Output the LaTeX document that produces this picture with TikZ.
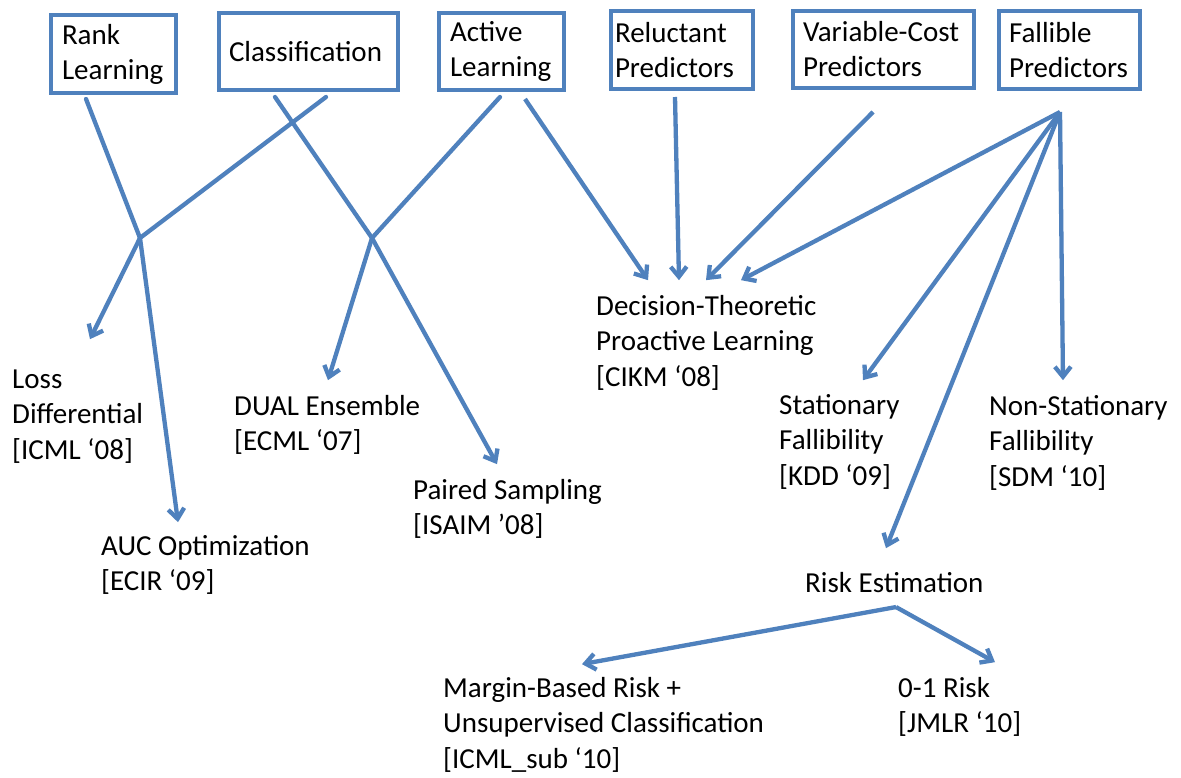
\documentclass[tikz,border=0pt]{standalone}
\usepackage{fontspec}
\setmainfont{Carlito}
\usetikzlibrary{arrows.meta,calc}
\hyphenpenalty=10000
\exhyphenpenalty=10000
\definecolor{ob}{HTML}{4F81BD}
\begin{document}
\begin{tikzpicture}[x=1pt,y=-1pt,
  lbl/.style={font=\fontsize{29}{35.5}\selectfont, inner sep=0pt, anchor=north west, align=left},
  topbox/.style={draw=ob, line width=4pt, fill=white, font=\fontsize{29}{35}\selectfont, align=left, inner ysep=0pt},
  con/.style={draw=ob, line width=4.3pt, line cap=round},
  arr/.style={draw=ob, line width=4.3pt, -{Straight Barb[length=10pt,width=16pt]}}]
\fill[white] (0,0) rectangle (1181,777);
\useasboundingbox (0,0) rectangle (1181,777);

% top boxes
\node[topbox, text width=103pt, inner xsep=11pt, minimum height=78pt] (rank) at (113.5,54) {Rank\\Learning};
\node[topbox, text width=159pt, inner xsep=10pt, minimum height=77pt] (cls) at (308.5,51.5) {Classification};
\node[topbox, text width=103pt, inner xsep=11pt, minimum height=77pt] (act) at (501.5,51.5) {Active\\Learning};
\node[topbox, text width=134pt, inner xsep=4pt, minimum height=78pt] (rel) at (682,50) {Reluctant\\Predictors};
\node[topbox, text width=161pt, inner xsep=10pt, minimum height=77pt] (var) at (883.5,49.5) {Variable-Cost\\Predictors};
\node[topbox, text width=121pt, inner xsep=10pt, minimum height=78pt] (fal) at (1069.5,50) {Fallible\\Predictors};

% result labels
\node[lbl] (loss) at (12,363.15) {\strut Loss\\Differential\\{}[ICML ‘08]};
\node[lbl] (auc) at (101,530.15) {\strut AUC Optimization\\{}[ECIR ‘09]};
\node[lbl] (dual) at (234,390.15) {\strut DUAL Ensemble\\{}[ECML ‘07]};
\node[lbl] (paired) at (413,474.15) {\strut Paired Sampling\\{}[ISAIM ’08]};
\node[lbl] (dec) at (596,290.15) {\strut Decision-Theoretic\\Proactive Learning\\{}[CIKM ‘08]};
\node[lbl] (stat) at (779,389.15) {\strut Stationary\\Fallibility\\{}[KDD ‘09]};
\node[lbl] (nonstat) at (989,390.15) {\strut Non-Stationary\\Fallibility\\{}[SDM ‘10]};
\node[lbl] (risk) at (805,567.15) {\strut Risk Estimation};
\node[lbl] (margin) at (443,672.15) {\strut Margin-Based Risk +\\Unsupervised Classification\\{}[ICML\_sub ‘10]};
\node[lbl] (zero) at (898,672.15) {\strut 0-1 Risk\\{}[JMLR ‘10]};

% junctions
\coordinate (j1) at (140,238);
\coordinate (j2) at (372,238);
\coordinate (fapex) at ($(fal.south west)+(63,21)$);
\coordinate (rapex) at ($(risk.south west)+(91,4)$);

\draw[con] ($(rank.south west)+(37,4)$) -- (j1);
\draw[con] ($(cls.south west)+(109,5)$) -- (j1);
\draw[arr] (j1) -- ($(loss.north west)+(78,-24)$);
\draw[arr] (j1) -- ($(auc.north west)+(77,-8)$);

\draw[con] ($(cls.south west)+(58,5)$) -- (j2);
\draw[con] ($(act.south west)+(63,5)$) -- (j2);
\draw[arr] (j2) -- ($(dual.north west)+(94,-10)$);
\draw[arr] (j2) -- ($(paired.north west)+(84,-10)$);

\draw[arr] ($(act.south west)+(88,7)$) -- ($(dec.north west)+(52,-10)$);
\draw[arr] ($(rel.south west)+(66,6)$) -- ($(dec.north west)+(83,-10)$);
\draw[arr] ($(var.south west)+(82,22)$) -- ($(dec.north west)+(110,-10)$);

\draw[arr] (fapex) -- ($(dec.north west)+(145,-10)$);
\draw[arr] (fapex) -- ($(stat.north west)+(84,-9)$);
\draw[arr] (fapex) -- ($(risk.north west)+(81,-19)$);
\draw[arr] (fapex) -- ($(nonstat.north west)+(74,-10)$);

\draw[arr] (rapex) -- ($(margin.north west)+(139,-8)$);
\draw[arr] (rapex) -- ($(zero.north west)+(97,-10)$);
\end{tikzpicture}
\end{document}
